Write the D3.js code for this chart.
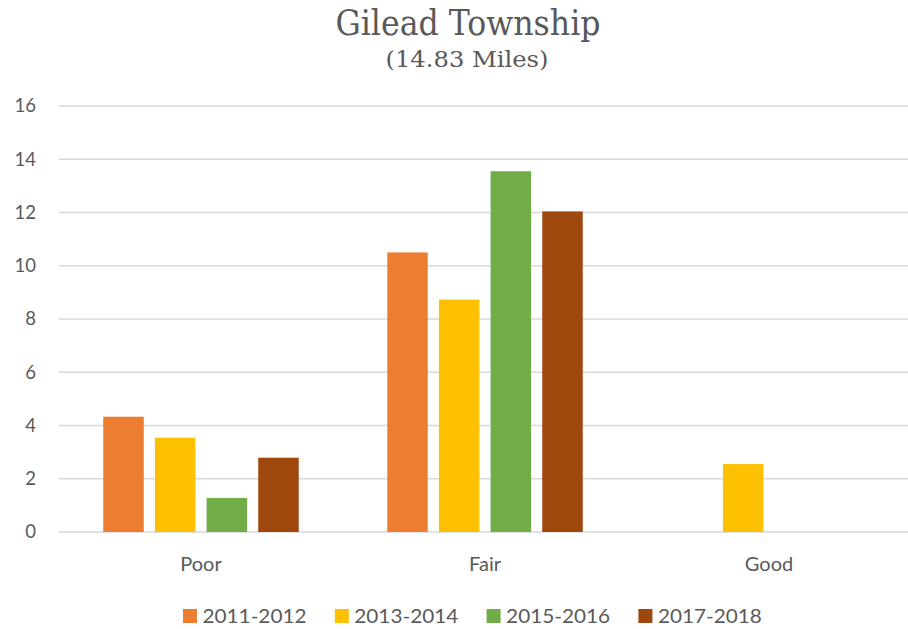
<!DOCTYPE html>
<html><head><meta charset="utf-8">
<script src="https://cdn.jsdelivr.net/npm/d3@7"></script>
<style>body{margin:0;background:#fff}svg{display:block}</style>
</head><body>
<svg id="c" width="908" height="629"></svg>
<script>
const categories = ["Poor", "Fair", "Good"];
const seriesNames = ["2011-2012", "2013-2014", "2015-2016", "2017-2018"];
const s2011 = [4.33, 10.50, 0];
const s2013 = [3.54, 8.73, 2.55];
const s2015 = [1.28, 13.55, 0];
const s2017 = [2.79, 12.04, 0];
const yTicks = [0, 2, 4, 6, 8, 10, 12, 14, 16];
const colors = ["#ED7D31", "#FFC000", "#70AD47", "#9E480E"];
const titleText = "Gilead Township";
const subtitleText = "(14.83 Miles)";

const seriesVals = [s2011, s2013, s2015, s2017];
const svg = d3.select("#c");
const font = "Lato, 'Open Sans', sans-serif";
const serif = "'DejaVu Serif Condensed', 'Liberation Serif', serif";
const grey = "#595959";

const x0 = d3.scaleBand().domain(categories).range([59, 911]).paddingInner(0).paddingOuter(0);
const x1 = d3.scaleBand().domain(seriesNames).range([0, 195.5]).paddingInner(0.216).paddingOuter(0);
const y = d3.scaleLinear().domain([0, 16]).range([532, 106]);

// gridlines
svg.append("g").selectAll("line").data(yTicks).join("line")
  .attr("x1", 59).attr("x2", 908)
  .attr("y1", d => y(d)).attr("y2", d => y(d))
  .attr("stroke", "#d9d9d9").attr("stroke-width", 1.5);

// y axis labels
const yAxis = d3.axisLeft(y).tickValues(yTicks).tickSize(0).tickPadding(0);
const ya = svg.append("g").attr("transform", "translate(36,0)").call(yAxis);
ya.select(".domain").remove();
ya.selectAll("text").attr("font-family", font).attr("font-size", 18.5).attr("fill", grey);

// bars
const groups = svg.append("g").selectAll("g").data(categories).join("g")
  .attr("transform", d => `translate(${x0(d) + (x0.bandwidth() - 195.5) / 2},0)`);
groups.selectAll("rect").data((c, i) => seriesNames.map((s, j) => ({s, v: seriesVals[j][i], j})).filter(d => d.v > 0))
  .join("rect")
  .attr("x", d => x1(d.s)).attr("width", x1.bandwidth())
  .attr("y", d => y(d.v)).attr("height", d => y(0) - y(d.v))
  .attr("fill", d => colors[d.j]);

// x axis labels
const xAxis = d3.axisBottom(x0).tickSize(0).tickPadding(0);
const xa = svg.append("g").attr("transform", "translate(0,571)").call(xAxis);
xa.select(".domain").remove();
xa.selectAll("text").attr("font-family", font).attr("font-size", 20).attr("fill", grey).attr("dy", 0);

// title
svg.append("text").attr("x", 468).attr("y", 35).attr("text-anchor", "middle")
  .attr("font-family", serif).attr("font-size", 36).attr("fill", grey)
  .attr("textLength", 265).attr("lengthAdjust", "spacingAndGlyphs").text(titleText);
svg.append("text").attr("x", 467).attr("y", 67).attr("text-anchor", "middle")
  .attr("font-family", serif).attr("font-size", 23).attr("fill", grey)
  .attr("textLength", 163).attr("lengthAdjust", "spacingAndGlyphs").text(subtitleText);

// legend
const leg = svg.append("g").selectAll("g").data(seriesNames).join("g")
  .attr("transform", (d, i) => `translate(${183 + i * 151.8},0)`);
leg.append("rect").attr("x", 0).attr("y", 609).attr("width", 14).attr("height", 14).attr("fill", (d, i) => colors[i]);
leg.append("text").attr("x", 19.5).attr("y", 623).attr("font-family", font).attr("font-size", 20).attr("fill", grey)
  .attr("textLength", 104).attr("lengthAdjust", "spacingAndGlyphs").text(d => d);
</script>
</body></html>
